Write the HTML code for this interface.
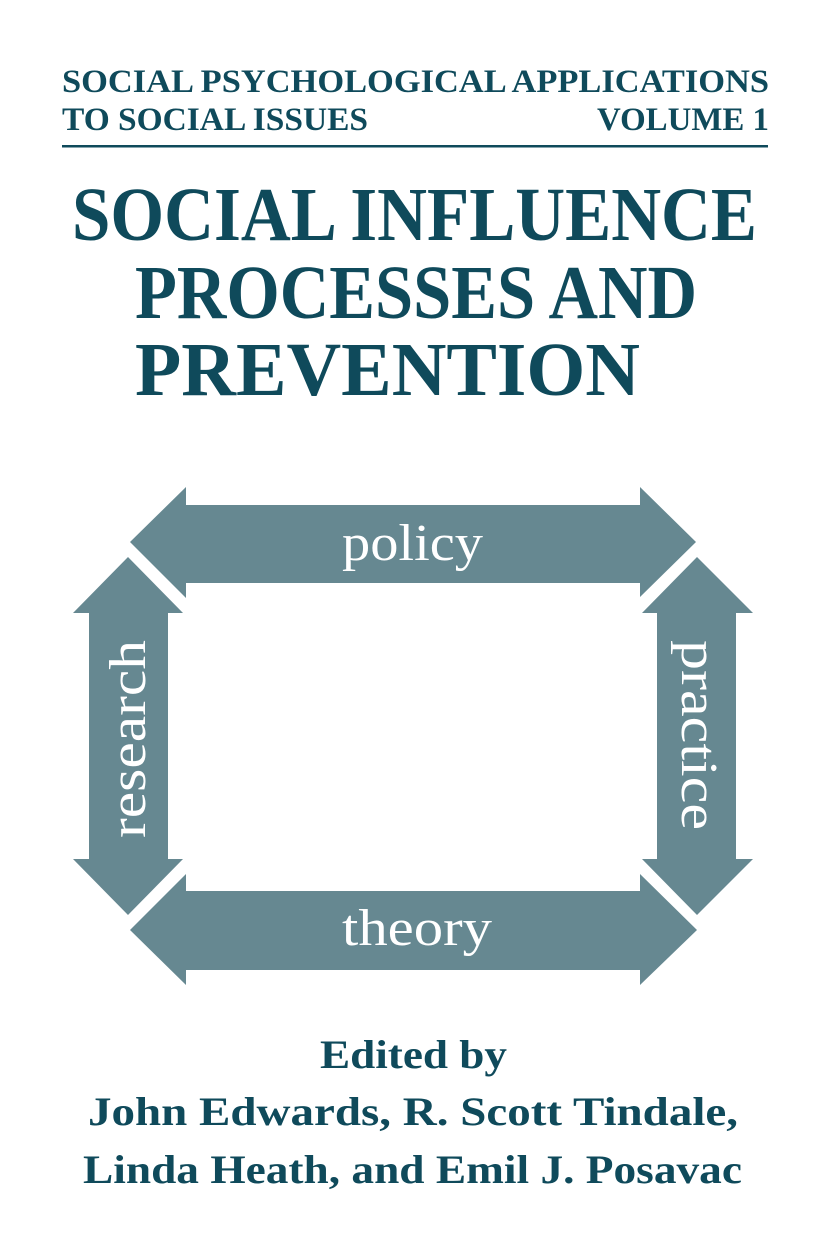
<!DOCTYPE html>
<html><head><meta charset="utf-8"><style>html,body{margin:0;padding:0;background:#fff;}svg{display:block}</style></head>
<body>
<svg width="827" height="1254" viewBox="0 0 827 1254" xmlns="http://www.w3.org/2000/svg">
<g fill="#0f4a5b" font-family="'Liberation Serif', serif" font-weight="bold">
<text x="62" y="92" font-size="33" textLength="707" lengthAdjust="spacingAndGlyphs">SOCIAL PSYCHOLOGICAL APPLICATIONS</text>
<text x="62" y="130" font-size="33" textLength="306" lengthAdjust="spacingAndGlyphs">TO SOCIAL ISSUES</text>
<text x="597" y="130" font-size="33" textLength="172" lengthAdjust="spacingAndGlyphs">VOLUME 1</text>
<rect x="62" y="145" width="706" height="2.5"/>
<text x="72" y="240" font-size="76" textLength="685" lengthAdjust="spacingAndGlyphs">SOCIAL INFLUENCE</text>
<text x="135" y="318" font-size="76" textLength="562" lengthAdjust="spacingAndGlyphs">PROCESSES AND</text>
<text x="135" y="395" font-size="76" textLength="505" lengthAdjust="spacingAndGlyphs">PREVENTION</text>
<text x="320" y="1068" font-size="40" textLength="187" lengthAdjust="spacingAndGlyphs">Edited by</text>
<text x="88" y="1125" font-size="40" textLength="650" lengthAdjust="spacingAndGlyphs">John Edwards, R. Scott Tindale,</text>
<text x="83" y="1183" font-size="40" textLength="659" lengthAdjust="spacingAndGlyphs">Linda Heath, and Emil J. Posavac</text>
</g>
<g fill="#668891">
<polygon points="130,542 186,487 186,505 640,505 640,487 696,542 640,597 640,583 186,583 186,598"/>
<polygon points="130,930 186,874 186,891 640,891 640,874 697,930 640,985 640,970 186,970 186,985"/>
<polygon points="128,557 183,613 168,613 168,859 183,859 128,915 73,859 89,859 89,613 73,613"/>
<polygon points="697,557 753,613 736,613 736,859 753,859 697,915 642,859 657,859 657,613 642,613"/>
</g>
<g fill="#fff" font-family="'Liberation Serif', serif" font-size="52">
<text x="342" y="560" textLength="141" lengthAdjust="spacingAndGlyphs">policy</text>
<text x="342" y="945" textLength="150" lengthAdjust="spacingAndGlyphs">theory</text>
<text transform="translate(145,838) rotate(-90)" textLength="198" lengthAdjust="spacingAndGlyphs">research</text>
<text transform="translate(682,640) rotate(90)" textLength="190" lengthAdjust="spacingAndGlyphs">practice</text>
</g>
</svg>
</body></html>
